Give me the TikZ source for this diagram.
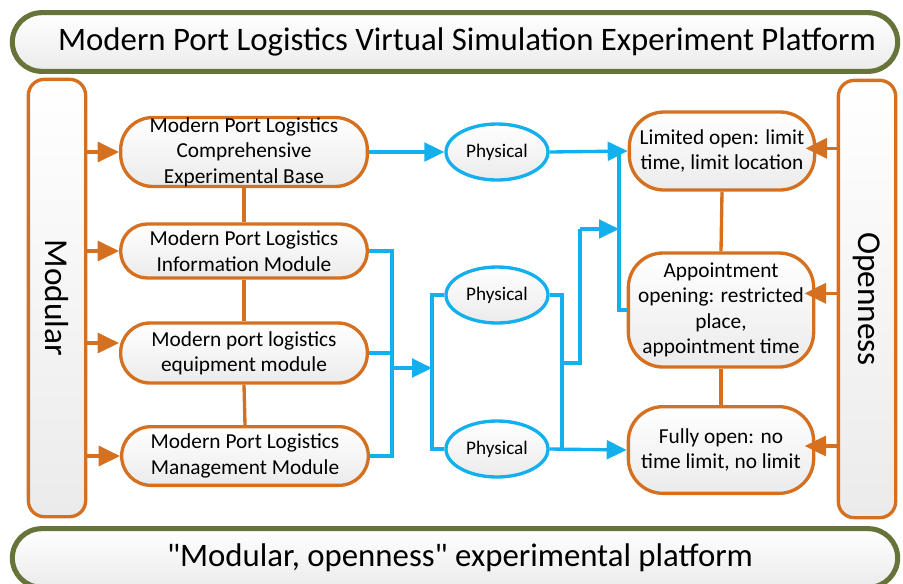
\documentclass[tikz,border=0pt]{standalone}
\usepackage{fontspec}
\setmainfont{Carlito}
% same face without the TeX quote mapping, so " stays straight
\newfontfamily\plainquotes{Carlito}
\usetikzlibrary{arrows.meta,shapes.geometric,calc}
\definecolor{portorange}{HTML}{D4701F}
\definecolor{portblue}{HTML}{14B0EE}
\definecolor{bannergreen}{HTML}{66743A}
\definecolor{boxgray}{HTML}{EBEBEB}

\tikzset{
  softfill/.style={top color=white, bottom color=boxgray},
  banner/.style={draw=bannergreen, line width=3.8pt, rounded corners=22pt, softfill,
    minimum width=664pt, minimum height=44pt, inner sep=0pt},
  bannertext/.style={font=\fontsize{24.6}{30}\selectfont},
  bannerquoted/.style={font=\fontsize{24.6}{30}\plainquotes},
  sidebar/.style={draw=portorange, line width=2.5pt, rounded corners=12pt, softfill,
    minimum width=43pt, minimum height=328pt, inner sep=0pt},
  sidelabel/.style={rotate=-90, font=\fontsize{25}{30}\selectfont},
  modbox/.style={draw=portorange, line width=2.5pt, softfill, align=center,
    minimum width=185pt, inner sep=0pt, font=\fontsize{16}{19}\selectfont},
  openbox/.style={draw=portorange, line width=2.5pt, softfill, align=center,
    minimum width=139pt, rounded corners=26pt, inner sep=0pt, font=\fontsize{16}{19}\selectfont},
  physical/.style={ellipse, draw=portblue, line width=2.5pt, softfill,
    minimum width=76.5pt, minimum height=42pt, inner sep=0pt, font=\fontsize{14.4}{17}\selectfont},
  orangelink/.style={draw=portorange, line width=2.5pt},
  orangearrow/.style={draw=portorange, fill=portorange, line width=2.5pt,
    -{Triangle[length=16pt,width=15pt]}},
  bluelink/.style={draw=portblue, line width=2.5pt},
  bluearrow/.style={draw=portblue, fill=portblue, line width=2.5pt,
    -{Triangle[length=15pt,width=14pt]}},
}

\begin{document}
\begin{tikzpicture}[x=0.75pt, y=-0.75pt]
\useasboundingbox (0,0) rectangle (903,583);
\clip (0,0) rectangle (903,583);

% platform banners
\node[banner] (top) at (455,42) {};
\node[bannertext] (toptext) at (467,42) {Modern Port Logistics Virtual Simulation Experiment Platform};
\node[banner] (bottom) at (455,558) {};
\node[bannerquoted] (bottomtext) at (460,558) {"Modular, openness" experimental platform};

% the two side pillars
\node[sidebar] (modular) at (57,298) {};
\node[sidelabel] at (modular.center) {Modular};
\node[sidebar] (openness) at (867,299) {};
\node[sidelabel] at (openness.center) {Openness};

% module column
\node[modbox, minimum height=48pt, rounded corners=24pt] (n1) at (244,152)
  {Modern Port Logistics\\Comprehensive\\Experimental Base};
\node[modbox, minimum height=40.5pt, rounded corners=20pt] (n2) at (244,251)
  {Modern Port Logistics\\Information Module};
\node[modbox, minimum height=45pt, rounded corners=22pt] (n3) at (244,353)
  {Modern port logistics\\equipment module};
\node[modbox, minimum height=44pt, rounded corners=22pt] (n4) at (245,456)
  {Modern Port Logistics\\Management Module};

% physical stages
\node[physical] (e1) at (497,152) {Physical};
\node[physical] (e2) at (497,295) {Physical};
\node[physical] (e3) at (497,449) {Physical};

% openness levels
\node[openbox, minimum height=58.5pt] (r1) at (722,151)
  {Limited open: limit\\time, limit location};
\node[openbox, minimum height=85.5pt] (r2) at (721,310)
  {Appointment\\opening: restricted\\place,\\appointment time};
\node[openbox, minimum height=65pt] (r3) at (721,450)
  {Fully open: no\\time limit, no limit};

% bus coordinates
\coordinate (busL) at (392,368);
\coordinate (busM) at (432,368);
\coordinate (busR) at (562,363);
\coordinate (busS) at (580,229);
\coordinate (busT) at (619,229);

% vertical orange ties
\draw[orangelink] (n1.south) -- (n2.north);
\draw[orangelink] (n2.south) -- (n3.north);
\draw[orangelink] (n3.south) -- (n4.north);
\draw[orangelink] (r1.south) -- (r2.north);
\draw[orangelink] (r2.south) -- (r3.north);

% arrows out of the side pillars
\draw[orangearrow] (modular.east |- n1.west) -- (n1.west);
\draw[orangearrow] (modular.east |- n2.west) -- (n2.west);
\draw[orangearrow] ([yshift=7.5pt]modular.east |- n3.west) -- ([yshift=7.5pt]n3.west);
\draw[orangearrow] (modular.east |- n4.west) -- (n4.west);
\draw[orangearrow, shorten >=-8pt] ([yshift=2pt]openness.west |- r1.east) -- ([yshift=2pt]r1.east);
\draw[orangearrow, shorten >=-8pt] ([yshift=12.5pt]openness.west |- r2.east) -- ([yshift=12.5pt]r2.east);
\draw[orangearrow, shorten >=-8pt] ([yshift=3pt]openness.west |- r3.east) -- ([yshift=3pt]r3.east);

% blue flow
\draw[bluearrow] (n1.east) -- (e1.west);
\draw[bluearrow] (e1.east) -- (r1.west);
\draw[bluelink] (r2.west) -| (busT |- r1.west);
\draw[bluelink] (n2.east) -| (busL |- n4.east) -- (n4.east);
\draw[bluelink] (n3.east) -- (busL |- n3.east);
\draw[bluearrow] (busL) -- (busM);
\draw[bluelink] (e2.west) -| (busM |- e3.west) -- (e3.west);
\draw[bluelink] (e2.east) -| (busR |- e3.east);
\draw[bluelink] (busR) -| (busS);
\draw[bluearrow] (busS) -- (busT);
\draw[bluearrow] (e3.east) -- (r3.west);
\end{tikzpicture}
\end{document}
